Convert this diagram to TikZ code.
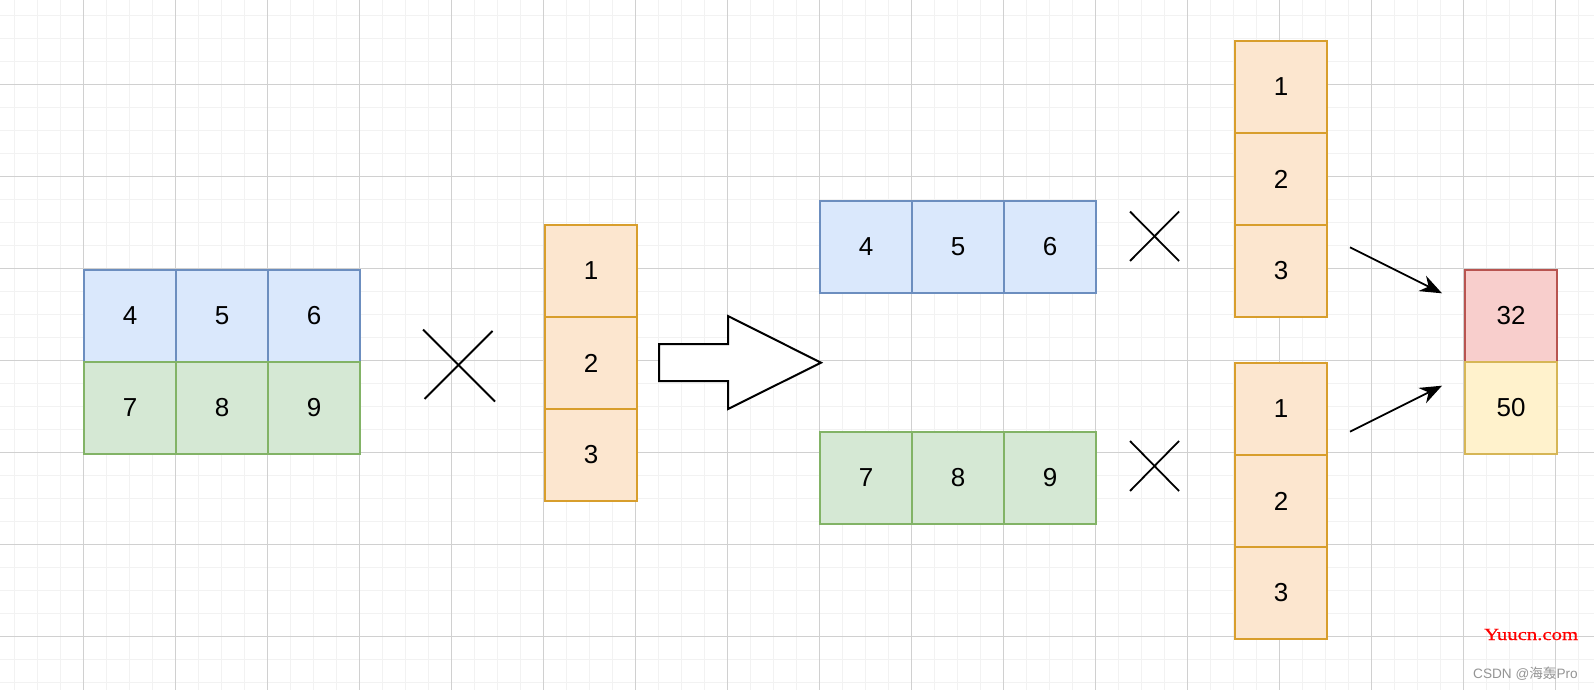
\documentclass[tikz,border=0pt]{standalone}
\usepackage{fontspec}
\setmainfont{Liberation Sans}
\newfontfamily\wmfont[FakeStretch=1.22,FakeBold=0.6]{Liberation Serif}
\newfontfamily\cjkfont{Noto Sans CJK SC}
\usetikzlibrary{arrows.meta}
\definecolor{bluefill}{HTML}{DAE8FC}
\definecolor{bluedraw}{HTML}{6C8EBF}
\definecolor{greenfill}{HTML}{D5E8D4}
\definecolor{greendraw}{HTML}{82B366}
\definecolor{orangefill}{HTML}{FCE6CF}
\definecolor{orangedraw}{HTML}{D89E2C}
\definecolor{redfill}{HTML}{F8CECC}
\definecolor{reddraw}{HTML}{B85450}
\definecolor{yellowfill}{HTML}{FFF2CC}
\definecolor{yellowdraw}{HTML}{D6B656}
\definecolor{minorgrid}{HTML}{F2F2F2}
\definecolor{majorgrid}{HTML}{D0D0D0}
\tikzset{
  cell/.style={draw, minimum width=92pt, minimum height=92pt, inner sep=0pt,
    line width=1.4pt, font=\fontsize{26}{30}\selectfont, text=black},
  bluecell/.style={cell, fill=bluefill, draw=bluedraw},
  greencell/.style={cell, fill=greenfill, draw=greendraw},
  orangecell/.style={cell, fill=orangefill, draw=orangedraw},
  redcell/.style={cell, fill=redfill, draw=reddraw},
  yellowcell/.style={cell, fill=yellowfill, draw=yellowdraw},
  crossline/.style={draw=black, line width=1.8pt},
  minorline/.style={draw=minorgrid, line width=1pt},
  majorline/.style={draw=majorgrid, line width=1pt},
  connector/.style={draw=black, line width=1.8pt, -{Stealth[length=22pt,width=17pt,inset=7pt]}},
  bigarrow/.style={draw=black, fill=white, line width=2pt, line join=miter}
}
\begin{document}
\begin{tikzpicture}[x=1pt,y=-1pt]
\useasboundingbox (0,0) rectangle (1594,690);
\fill[white] (0,0) rectangle (1594,690);
% grid
\foreach \i in {0,...,69} {
  \draw[minorline] ({14.5+23*\i},0) -- ({14.5+23*\i},690);
}
\foreach \j in {0,...,29} {
  \draw[minorline] (0,{15.3+23*\j}) -- (1594,{15.3+23*\j});
}
\foreach \i in {0,...,16} {
  \draw[majorline] ({83.5+92*\i},0) -- ({83.5+92*\i},690);
}
\foreach \j in {0,...,6} {
  \draw[majorline] (0,{84.3+92*\j}) -- (1594,{84.3+92*\j});
}
% left matrix
\node[bluecell] (m11) at (130,316) {4};
\node[bluecell] (m12) at (222,316) {5};
\node[bluecell] (m13) at (314,316) {6};
\node[greencell] (m21) at (130,408) {7};
\node[greencell] (m22) at (222,408) {8};
\node[greencell] (m23) at (314,408) {9};
% cross 1
\coordinate (c1a) at (423,329.5);
\coordinate (c1b) at (495,401.5);
\coordinate (c1c) at (424.5,399);
\coordinate (c1d) at (492.5,331);
\draw[crossline] (c1a) -- (c1b);
\draw[crossline] (c1c) -- (c1d);
% vector 1
\node[orangecell] (v11) at (591,271) {1};
\node[orangecell] (v12) at (591,363) {2};
\node[orangecell] (v13) at (591,455) {3};
% big arrow
\draw[bigarrow] (659,344) -- (728,344) -- (728,316) -- (821,362.7) -- (728,409) -- (728,381) -- (659,381) -- cycle;
% top row
\node[bluecell] (r11) at (866,247) {4};
\node[bluecell] (r12) at (958,247) {5};
\node[bluecell] (r13) at (1050,247) {6};
% bottom row
\node[greencell] (r21) at (866,478) {7};
\node[greencell] (r22) at (958,478) {8};
\node[greencell] (r23) at (1050,478) {9};
% cross 2
\coordinate (c2a) at (1130,211.5);
\coordinate (c2b) at (1179,261);
\coordinate (c2c) at (1130,261);
\coordinate (c2d) at (1179,211.5);
\draw[crossline] (c2a) -- (c2b);
\draw[crossline] (c2c) -- (c2d);
% cross 3
\coordinate (c3a) at (1130,441);
\coordinate (c3b) at (1179,491);
\coordinate (c3c) at (1130,491);
\coordinate (c3d) at (1179,441);
\draw[crossline] (c3a) -- (c3b);
\draw[crossline] (c3c) -- (c3d);
% vector 2
\node[orangecell] (v21) at (1281,87) {1};
\node[orangecell] (v22) at (1281,179) {2};
\node[orangecell] (v23) at (1281,271) {3};
% vector 3
\node[orangecell] (v31) at (1281,409) {1};
\node[orangecell] (v32) at (1281,501) {2};
\node[orangecell] (v33) at (1281,593) {3};
% result
\node[redcell] (res1) at (1511,316) {32};
\node[yellowcell] (res2) at (1511,408) {50};
% arrows
\coordinate (a1s) at (1350,247.3);
\coordinate (a1e) at (1442,293.3);
\coordinate (a2s) at (1350,431.7);
\coordinate (a2e) at (1442,385.7);
\draw[connector] (a1s) -- (a1e);
\draw[connector] (a2s) -- (a2e);
% watermarks
\node[anchor=base west, inner sep=0pt, text=red, font=\wmfont\fontsize{17}{20}\selectfont] (wm1) at (1484,640) {Yuucn.com};
\node[anchor=base west, inner sep=0pt, text=black!42, font=\fontsize{13.6}{16}\selectfont] (wm2) at (1473,678) {CSDN @{\cjkfont 海轰}Pro};
\end{tikzpicture}
\end{document}
